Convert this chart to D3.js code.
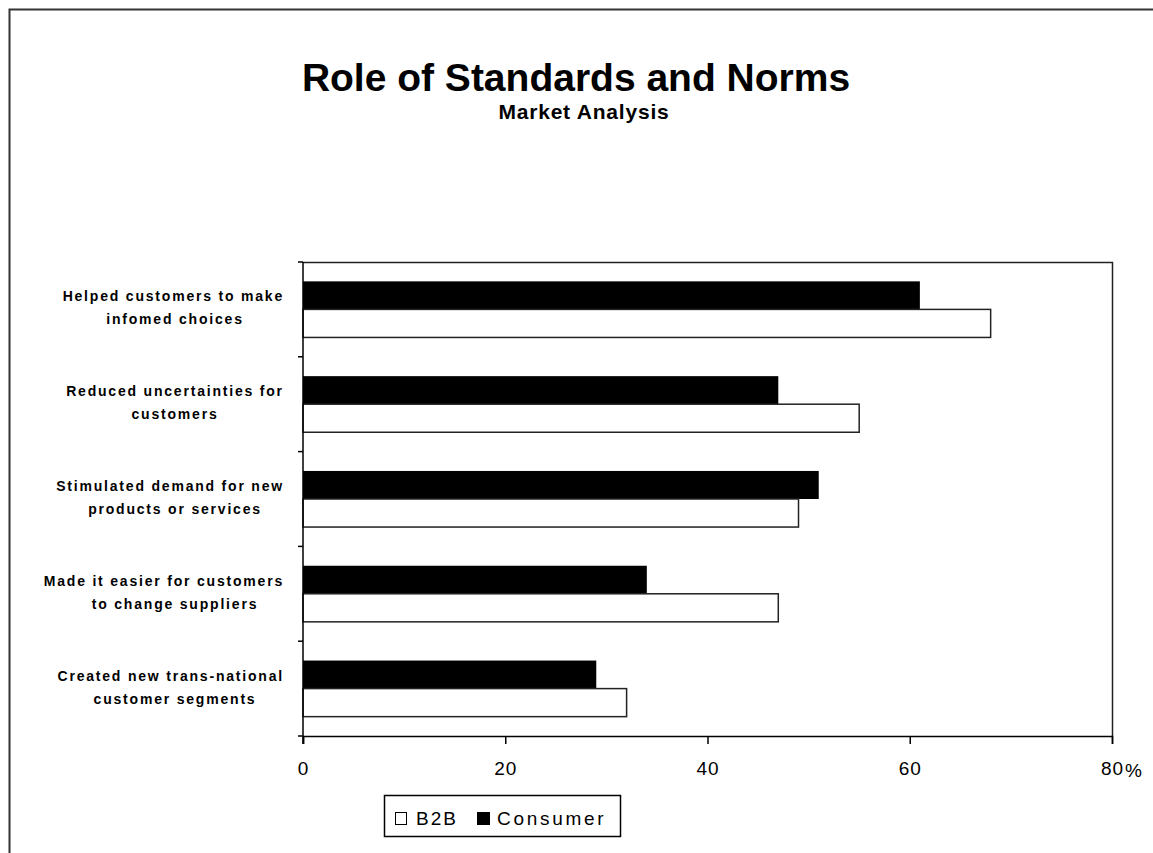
<!DOCTYPE html>
<html>
<head>
<meta charset="utf-8">
<script src="https://cdn.jsdelivr.net/npm/d3@7"></script>
<style>
  html, body { margin: 0; padding: 0; background: #fff; }
  svg { display: block; font-family: "Liberation Sans", Arial, Helvetica, sans-serif; }
</style>
</head>
<body>
<svg id="chart" width="1153" height="853"></svg>
<script>
// Survey responses: share of firms (%) naming each effect of standards and norms
const categories = [
  ["Helped customers to make", "infomed choices"],
  ["Reduced uncertainties for", "customers"],
  ["Stimulated demand for new", "products or services"],
  ["Made it easier for customers", "to change suppliers"],
  ["Created new trans-national", "customer segments"]
];
const seriesNames = ["Consumer", "B2B"];
const consumerValues = [61, 47, 51, 34, 29];
const b2bValues = [68, 55, 49, 47, 32];
const xTicks = [0, 20, 40, 60, 80];

const svg = d3.select("#chart");
const W = 1153, H = 853;
const plot = { left: 303, right: 1112, top: 262, bottom: 736 };

// outer chart frame
svg.append("rect")
  .attr("x", 9.5).attr("y", 9.5)
  .attr("width", W + 20).attr("height", H + 20)
  .attr("fill", "none").attr("stroke", "#333").attr("stroke-width", 2);

// titles
svg.append("text")
  .attr("x", 576).attr("y", 91)
  .attr("text-anchor", "middle")
  .attr("font-size", 39).attr("font-weight", "bold")
  .text("Role of Standards and Norms");
svg.append("text")
  .attr("x", 584).attr("y", 119)
  .attr("text-anchor", "middle")
  .attr("font-size", 21).attr("font-weight", "bold")
  .attr("letter-spacing", 0.8)
  .text("Market Analysis");

const keys = categories.map((d, i) => i);
const x = d3.scaleLinear().domain([0, 80]).range([plot.left, plot.right]);
const y = d3.scaleBand().domain(keys).range([plot.top, plot.bottom]).padding(0);
const ySub = d3.scaleBand().domain(seriesNames).range([0, y.bandwidth()])
  .paddingInner(0).paddingOuter(0.69);

const rows = keys.map(i => ({ i, Consumer: consumerValues[i], B2B: b2bValues[i] }));

// plot frame (top and right)
svg.append("path")
  .attr("d", `M${plot.left},${plot.top + 0.5}H${plot.right + 0.5}V${plot.bottom}`)
  .attr("fill", "none").attr("stroke", "#222").attr("stroke-width", 1.5);

// bars
const g = svg.append("g");
rows.forEach(r => {
  g.append("rect")
    .attr("x", x(0))
    .attr("y", y(r.i) + ySub("Consumer"))
    .attr("width", x(r.Consumer) - x(0))
    .attr("height", ySub.bandwidth())
    .attr("fill", "#000");
  g.append("rect")
    .attr("x", x(0))
    .attr("y", y(r.i) + ySub("B2B"))
    .attr("width", x(r.B2B) - x(0))
    .attr("height", ySub.bandwidth())
    .attr("fill", "#fff").attr("stroke", "#222").attr("stroke-width", 1.5);
});

// x axis
const xAxis = d3.axisBottom(x).tickValues(xTicks).tickSize(8).tickPadding(18)
  .tickFormat(d3.format("d"));
const xg = svg.append("g").attr("transform", `translate(0,${plot.bottom})`).call(xAxis);
xg.select(".domain").attr("stroke", "#000").attr("stroke-width", 1.5);
xg.selectAll(".tick line").attr("stroke", "#000").attr("stroke-width", 1.5);
xg.selectAll(".tick text")
  .attr("font-size", 19).attr("font-family", "Liberation Sans, Arial, sans-serif")
  .attr("fill", "#000").attr("letter-spacing", 1);
svg.append("text")
  .attr("x", x(80) + 13).attr("y", 777)
  .attr("font-size", 19).attr("fill", "#000")
  .text("%");

// y axis with ticks at category boundaries
const yg = svg.append("g");
yg.append("line")
  .attr("x1", plot.left).attr("x2", plot.left)
  .attr("y1", plot.top).attr("y2", plot.bottom + 8)
  .attr("stroke", "#000").attr("stroke-width", 1.5);
const bounds = keys.map(i => y(i)).concat([plot.bottom]);
yg.selectAll(".ytick").data(bounds).join("line")
  .attr("x1", plot.left - 5).attr("x2", plot.left)
  .attr("y1", d => d).attr("y2", d => d)
  .attr("stroke", "#000").attr("stroke-width", 1.5);

// category labels: centred, but kept clear of the axis
const labelCenter = 175, labelRight = 284;
keys.forEach(i => {
  const cy = y(i) + y.bandwidth() / 2;
  const t = svg.append("text")
    .attr("text-anchor", "middle")
    .attr("font-size", 14).attr("font-weight", "bold")
    .attr("letter-spacing", 1.8);
  categories[i].forEach((line, k) => {
    const ts = t.append("tspan").attr("x", labelCenter).attr("y", cy - 8 + k * 23).text(line);
    const w = ts.node().getComputedTextLength();
    ts.attr("x", Math.min(labelCenter, labelRight - w / 2));
  });
});

// legend
const lg = svg.append("g");
lg.append("rect").attr("x", 384.5).attr("y", 795.5).attr("width", 236).attr("height", 41)
  .attr("fill", "#fff").attr("stroke", "#000").attr("stroke-width", 1.5);
lg.append("rect").attr("x", 395.5).attr("y", 812.5).attr("width", 11).attr("height", 12)
  .attr("fill", "#fff").attr("stroke", "#000").attr("stroke-width", 1);
lg.append("text").attr("x", 416).attr("y", 825).attr("font-size", 19).attr("letter-spacing", 2)
  .text("B2B");
lg.append("rect").attr("x", 477).attr("y", 812).attr("width", 13).attr("height", 13)
  .attr("fill", "#000");
lg.append("text").attr("x", 497).attr("y", 825).attr("font-size", 19).attr("letter-spacing", 2.7)
  .text("Consumer");
</script>
</body>
</html>
